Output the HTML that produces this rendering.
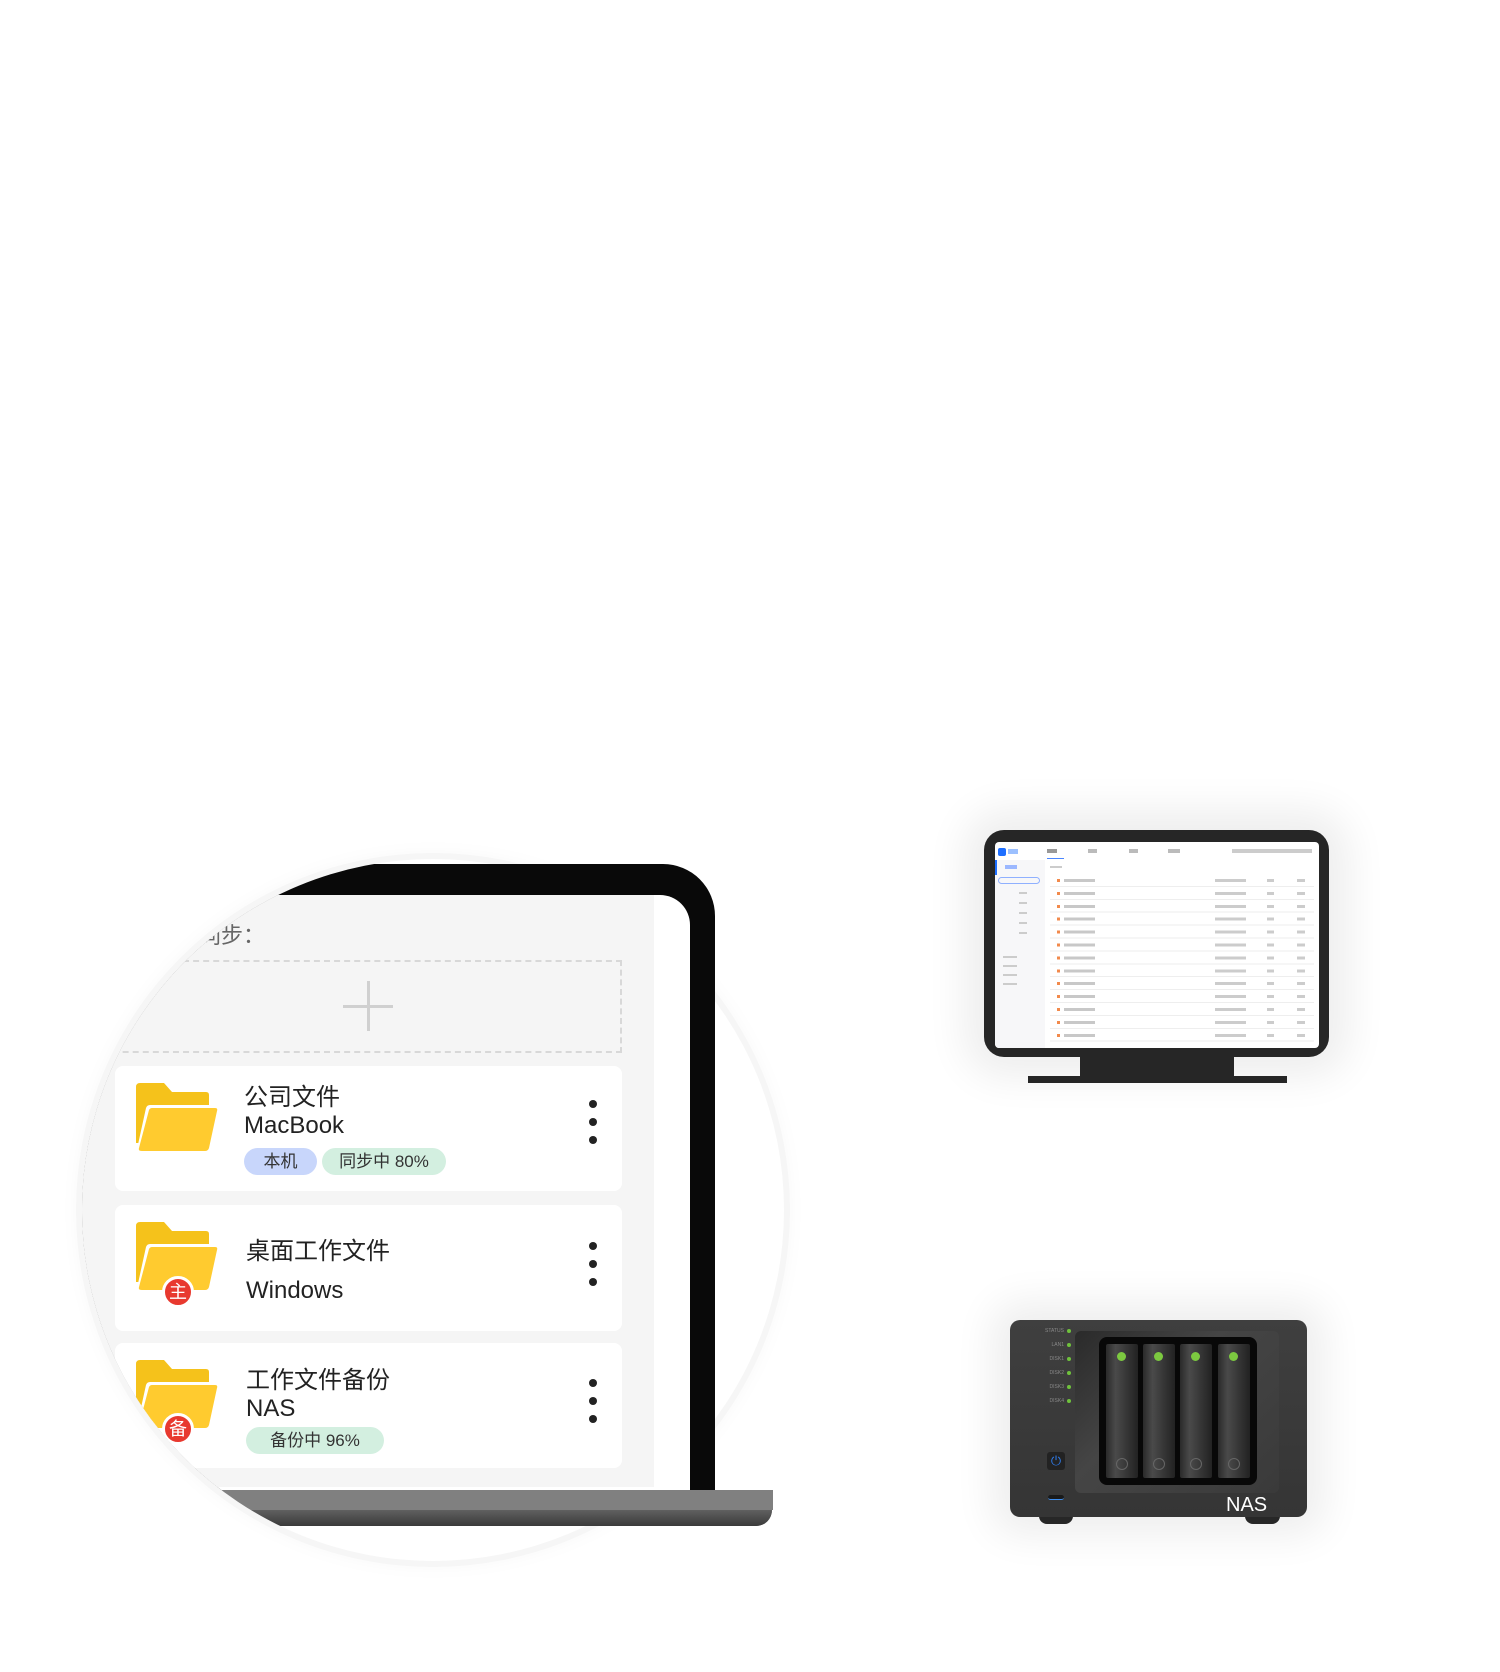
<!DOCTYPE html>
<html><head><meta charset="utf-8"><style>
*{margin:0;padding:0;box-sizing:border-box}
body{width:1500px;height:1672px;background:#fff;position:relative;overflow:hidden;font-family:"Liberation Sans","Noto Sans CJK SC",sans-serif}
.a{position:absolute}
.ring{left:82px;top:859px;width:702px;height:702px;border-radius:50%;background:#fff;box-shadow:0 0 0 6px #f6f6f6,0 0 24px rgba(0,0,0,.05)}
.clipc{left:82px;top:859px;width:702px;height:702px;border-radius:50%;overflow:hidden}
.card{background:#fff;border-radius:8px;left:115px;width:507px}
.tt{font-size:24px;color:#222;white-space:nowrap}
.dot{width:8px;height:8px;border-radius:50%;background:#222}
.tag{border-radius:14px;font-size:17px;color:#333;text-align:center;line-height:27px;height:27px}
.badge{width:32px;height:32px;border-radius:50%;background:#e8392f;border:3px solid #fff;color:#fff;font-size:18px;text-align:center;line-height:26px}
.drive{width:32px;top:7px;height:134px;background:linear-gradient(90deg,#2a2a2a,#4a4a4a 30%,#333 70%,#222);border-radius:2px}
.drive i{position:absolute;left:11px;top:8px;width:9px;height:9px;border-radius:50%;background:#7cc940}
.drive b{position:absolute;left:10px;top:114px;width:12px;height:12px;border-radius:50%;border:1px solid #666}
.lbl{font-size:5px;color:#888;text-align:right;width:30px;left:24px}
.led{width:4px;height:4px;border-radius:50%;background:#6fc23c;left:57px}
.lb1{left:-20px;top:864px;width:735px;height:626px;background:#090909;border-radius:0 52px 0 0}
.lb2{left:-20px;top:895px;width:710px;height:595px;background:#fff;border-radius:0 30px 0 0}
.lb3{left:-20px;top:895px;width:674px;height:592px;background:#f5f5f5}
.lb4{left:-20px;top:1490px;width:793px;height:20px;background:#808080}
.lb5{left:-20px;top:1510px;width:792px;height:16px;background:linear-gradient(#606060,#3a3a3a);border-radius:0 0 30px 0}
</style></head><body>

<div class="a ring"></div>

<div class="a clipc"><div class="a" style="left:-82px;top:-859px;width:1000px;height:1700px">
  <div class="a lb1"></div><div class="a lb2"></div><div class="a lb3"></div><div class="a lb4"></div><div class="a lb5"></div>
  <div class="a" style="left:177px;top:918px;font-size:22px;color:#666">自同步：</div>
  <div class="a" style="left:32px;top:960px;width:590px;height:93px;border:2px dashed #d8d8d8"></div>
  <div class="a" style="left:343px;top:1005px;width:50px;height:3px;background:#d0d0d0"></div>
  <div class="a" style="left:367px;top:981px;width:3px;height:50px;background:#d0d0d0"></div>

  <div class="a card" style="top:1066px;height:125px">
    <svg class="a" style="left:21px;top:17px" width="84" height="70" viewBox="0 0 84 70"><path d="M0 4Q0 0 4 0H28L36 9H70Q73 9 73 12V60H0Z" fill="#f5c21b"/><path d="M10 25Q11 22 14 22H80Q84 22 83 26L74 66Q73 70 69 70H4Q0 70 1 66Z" fill="#fff"/><path d="M13 27Q14 25 16 25H79Q82 25 81 28L73 65Q72 68 69 68H6Q2 68 3 65Z" fill="#ffcb2f"/></svg>
    <div class="a tt" style="left:129px;top:11px">公司文件</div>
    <div class="a tt" style="left:129px;top:46px">MacBook</div>
    <div class="a tag" style="left:129px;top:82px;width:73px;background:#c8d6fb">本机</div>
    <div class="a tag" style="left:207px;top:82px;width:124px;background:#d3efe0">同步中 80%</div>
    <div class="a dot" style="left:474px;top:34px"></div><div class="a dot" style="left:474px;top:52px"></div><div class="a dot" style="left:474px;top:70px"></div>
  </div>
  <div class="a card" style="top:1205px;height:126px">
    <svg class="a" style="left:21px;top:17px" width="84" height="70" viewBox="0 0 84 70"><path d="M0 4Q0 0 4 0H28L36 9H70Q73 9 73 12V60H0Z" fill="#f5c21b"/><path d="M10 25Q11 22 14 22H80Q84 22 83 26L74 66Q73 70 69 70H4Q0 70 1 66Z" fill="#fff"/><path d="M13 27Q14 25 16 25H79Q82 25 81 28L73 65Q72 68 69 68H6Q2 68 3 65Z" fill="#ffcb2f"/></svg>
    <div class="a badge" style="left:47px;top:71px">主</div>
    <div class="a tt" style="left:131px;top:26px">桌面工作文件</div>
    <div class="a tt" style="left:131px;top:72px">Windows</div>
    <div class="a dot" style="left:474px;top:37px"></div><div class="a dot" style="left:474px;top:55px"></div><div class="a dot" style="left:474px;top:73px"></div>
  </div>
  <div class="a card" style="top:1343px;height:125px">
    <svg class="a" style="left:21px;top:17px" width="84" height="70" viewBox="0 0 84 70"><path d="M0 4Q0 0 4 0H28L36 9H70Q73 9 73 12V60H0Z" fill="#f5c21b"/><path d="M10 25Q11 22 14 22H80Q84 22 83 26L74 66Q73 70 69 70H4Q0 70 1 66Z" fill="#fff"/><path d="M13 27Q14 25 16 25H79Q82 25 81 28L73 65Q72 68 69 68H6Q2 68 3 65Z" fill="#ffcb2f"/></svg>
    <div class="a badge" style="left:47px;top:70px">备</div>
    <div class="a tt" style="left:131px;top:17px">工作文件备份</div>
    <div class="a tt" style="left:131px;top:52px">NAS</div>
    <div class="a tag" style="left:131px;top:84px;width:138px;background:#d3efe0">备份中 96%</div>
    <div class="a dot" style="left:474px;top:36px"></div><div class="a dot" style="left:474px;top:54px"></div><div class="a dot" style="left:474px;top:72px"></div>
  </div>
</div></div>

<div class="a" style="left:433px;top:840px;width:400px;height:115px;overflow:hidden"><div class="a" style="left:-433px;top:-840px;width:1000px;height:1700px">
  <div class="a lb1"></div><div class="a lb2"></div><div class="a lb3"></div>
</div></div>
<div class="a" style="left:626px;top:950px;width:200px;height:610px;overflow:hidden"><div class="a" style="left:-626px;top:-950px;width:1000px;height:1700px">
  <div class="a lb1"></div><div class="a lb2"></div><div class="a lb3"></div><div class="a lb4"></div><div class="a lb5"></div>
</div></div>
<div class="a" style="left:433px;top:1488px;width:400px;height:60px;overflow:hidden"><div class="a" style="left:-433px;top:-1488px;width:1000px;height:1700px">
  <div class="a lb4"></div><div class="a lb5"></div>
</div></div>

<!-- monitor -->
<div class="a" style="left:984px;top:830px;width:345px;height:227px;background:#262626;border-radius:20px;box-shadow:0 0 40px 20px rgba(0,0,0,.07)"></div>
<div class="a" style="left:1080px;top:1057px;width:154px;height:20px;background:#262626"></div>
<div class="a" style="left:1028px;top:1076px;width:259px;height:7px;background:#262626"></div>
<div class="a" style="left:995px;top:842px;width:324px;height:206px;background:#fff;border-radius:4px;overflow:hidden">
  <div class="a" style="left:3px;top:6px;width:8px;height:8px;background:#1e6fff;border-radius:2px"></div>
  <div class="a" style="left:13px;top:7px;width:10px;height:5px;background:#9cc0ff"></div>
  <div class="a" style="left:52px;top:7px;width:10px;height:4px;background:#999"></div>
  <div class="a" style="left:52px;top:16px;width:17px;height:1px;background:#4a86ff"></div>
  <div class="a" style="left:93px;top:7px;width:9px;height:4px;background:#bbb"></div>
  <div class="a" style="left:134px;top:7px;width:9px;height:4px;background:#bbb"></div>
  <div class="a" style="left:173px;top:7px;width:12px;height:4px;background:#bbb"></div>
  <div class="a" style="left:237px;top:7px;width:80px;height:4px;background:#ccc"></div>
  <div class="a" style="left:0;top:18px;width:50px;height:188px;background:#f7f7f9"></div>
  <div class="a" style="left:0;top:18px;width:2px;height:15px;background:#1e6fff"></div>
  <div class="a" style="left:10px;top:23px;width:12px;height:4px;background:#9cb8ff"></div>
  <div class="a" style="left:3px;top:35px;width:42px;height:7px;border:1px solid #8fb0ff;border-radius:4px"></div>
  <div class="a" style="left:24px;top:50px;width:8px;height:45px;background:repeating-linear-gradient(#ccc 0 2px,transparent 2px 10px)"></div>
  <div class="a" style="left:8px;top:114px;width:14px;height:30px;background:repeating-linear-gradient(#ccc 0 2px,transparent 2px 9px)"></div>
  <div class="a" style="left:55px;top:24px;width:12px;height:2px;background:#ccc"></div>
  <div class="a" style="left:55px;top:32px;width:264px;height:170px;background:
    linear-gradient(90deg,transparent 0 7px,#f28a4c 7px 10px,transparent 10px 14px,#c8c8c8 14px 45px,transparent 45px 165px,#ccc 165px 196px,transparent 196px 217px,#ccc 217px 224px,transparent 224px 247px,#ccc 247px 255px,transparent 255px);
    -webkit-mask:repeating-linear-gradient(transparent 0 5px,#000 5px 8px,transparent 8px 12.9px);mask:repeating-linear-gradient(transparent 0 5px,#000 5px 8px,transparent 8px 12.9px)"></div>
  <div class="a" style="left:55px;top:32px;width:264px;height:170px;background:repeating-linear-gradient(transparent 0 11.9px,#eee 11.9px 12.9px)"></div>
</div>

<!-- NAS -->
<div class="a" style="left:1039px;top:1510px;width:34px;height:14px;background:#2a2a2a;border-radius:0 0 8px 8px"></div>
<div class="a" style="left:1245px;top:1510px;width:35px;height:14px;background:#2a2a2a;border-radius:0 0 8px 8px"></div>
<div class="a" style="left:1010px;top:1320px;width:297px;height:197px;background:linear-gradient(#3f3f3f,#353535);border-radius:10px;box-shadow:0 0 40px 18px rgba(0,0,0,.07)">
  <div class="lbl a" style="top:8px">STATUS</div><div class="led a" style="top:9px"></div>
  <div class="lbl a" style="top:22px">LAN1</div><div class="led a" style="top:23px"></div>
  <div class="lbl a" style="top:36px">DISK1</div><div class="led a" style="top:37px"></div>
  <div class="lbl a" style="top:50px">DISK2</div><div class="led a" style="top:51px"></div>
  <div class="lbl a" style="top:64px">DISK3</div><div class="led a" style="top:65px"></div>
  <div class="lbl a" style="top:78px">DISK4</div><div class="led a" style="top:79px"></div>
  <div class="a" style="left:37px;top:132px;width:18px;height:18px;background:#222;border-radius:3px;color:#2f7be8;font-size:13px;text-align:center;line-height:18px">⏻</div>
  <div class="a" style="left:38px;top:175px;width:16px;height:5px;background:#1a1a1a;border-radius:3px;border-bottom:1px solid #3d8ef0"></div>
  <div class="a" style="left:65px;top:11px;width:204px;height:162px;background:linear-gradient(135deg,#2a2a2a,#454545 40%,#3a3a3a);border-radius:6px">
    <div class="a" style="left:24px;top:6px;width:158px;height:148px;background:#080808;border-radius:8px">
      <div class="a drive" style="left:7px"><i></i><b></b></div>
      <div class="a drive" style="left:44px"><i></i><b></b></div>
      <div class="a drive" style="left:81px"><i></i><b></b></div>
      <div class="a drive" style="left:119px"><i></i><b></b></div>
    </div>
  </div>
  <div class="a" style="left:216px;top:174px;font-size:20px;color:#fff">NAS</div>
</div>
</body></html>
